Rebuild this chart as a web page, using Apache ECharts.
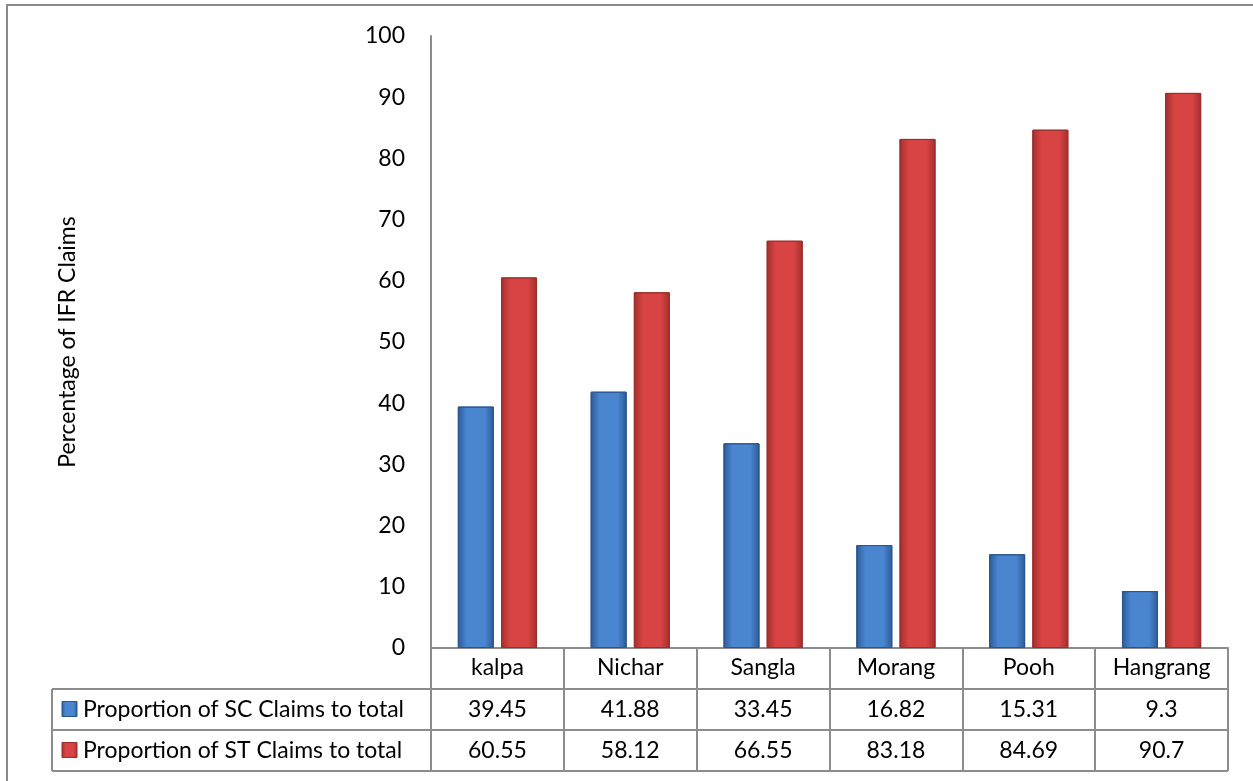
<!DOCTYPE html>
<html>
<head>
<meta charset="utf-8">
<script src="https://cdn.jsdelivr.net/npm/echarts@6/dist/echarts.min.js"></script>
<style>
  html, body { margin: 0; padding: 0; background: #fff; }
  #chart { width: 1253px; height: 781px; }
</style>
</head>
<body>
<div id="chart"></div>
<script>
// Blocks of Kinnaur district and the share of IFR claims by group
const blocks = ['kalpa', 'Nichar', 'Sangla', 'Morang', 'Pooh', 'Hangrang'];
const scShare = [39.45, 41.88, 33.45, 16.82, 15.31, 9.3];
const stShare = [60.55, 58.12, 66.55, 83.18, 84.69, 90.7];
const seriesNames = ['Proportion of SC Claims to total', 'Proportion of ST Claims to total'];
const yTicks = [0, 10, 20, 30, 40, 50, 60, 70, 80, 90, 100];

const FONT = 'Lato';
const FS = 23;
const GRID = { left: 431, right: 25, top: 36, bottom: 133 };
const W = 1253, H = 781;
const plotRight = W - GRID.right;
const axisY = H - GRID.bottom;
const rowH = 41;
const tableLeft = 52;
const gridLine = '#8c8c8c';

function barGradient(dark, light) {
  return new echarts.graphic.LinearGradient(0, 0, 1, 0, [
    { offset: 0, color: dark },
    { offset: 0.25, color: light },
    { offset: 0.75, color: light },
    { offset: 1, color: dark }
  ]);
}
const blueFill = barGradient('#2c5a96', '#4a86d0');
const redFill = barGradient('#a22f2c', '#d74443');

const chart = echarts.init(document.getElementById('chart'), null, { renderer: 'canvas' });

const option = {
  animation: false,
  backgroundColor: '#fff',
  textStyle: { fontFamily: FONT },
  grid: { left: GRID.left, right: GRID.right, top: GRID.top, bottom: GRID.bottom, containLabel: false },
  xAxis: {
    type: 'category',
    data: blocks,
    axisLine: { show: true, lineStyle: { color: gridLine, width: 2 } },
    axisTick: { show: true, interval: 0, length: rowH * 3, lineStyle: { color: gridLine, width: 2 } },
    axisLabel: { interval: 0, margin: 20, verticalAlign: 'middle', color: '#000', fontSize: FS, fontFamily: FONT }
  },
  yAxis: {
    type: 'value',
    min: 0, max: 100, interval: 10,
    name: 'Percentage of IFR Claims',
    nameLocation: 'middle',
    nameGap: 352,
    nameRotate: 90,
    nameTextStyle: { color: '#000', fontSize: FS, fontFamily: FONT },
    axisLine: { show: true, lineStyle: { color: gridLine, width: 2 } },
    axisTick: { show: false },
    splitLine: { show: false },
    axisLabel: {
      margin: 26, color: '#000', fontSize: FS, fontFamily: FONT,
      formatter: v => (yTicks.includes(v) ? String(v) : '')
    }
  },
  series: [
    {
      name: seriesNames[0], type: 'bar', data: scShare,
      barWidth: 36, barGap: '20%',
      itemStyle: { color: blueFill, borderColor: '#2a5590', borderWidth: 1 }
    },
    {
      name: seriesNames[1], type: 'bar', data: stShare,
      barWidth: 36, barGap: '20%',
      itemStyle: { color: redFill, borderColor: '#9b2c2a', borderWidth: 1 }
    }
  ]
};
chart.setOption(option);

// Data table under the axis: borders, legend keys and the values of each series
const elements = [];
const lineStyle = { stroke: gridLine, lineWidth: 2 };
const font = FS + 'px "' + FONT + '"';

// outer frame
elements.push({ type: 'rect', shape: { x: 7, y: 5, width: W + 10, height: H + 10 }, style: { fill: null, stroke: '#8a8a8a', lineWidth: 2 }, silent: true });

// horizontal table rules
[1, 2, 3].forEach(r => {
  const y = axisY + rowH * r;
  elements.push({ type: 'line', shape: { x1: tableLeft, y1: y, x2: plotRight, y2: y }, style: lineStyle, silent: true });
});
// left edge of the legend column
elements.push({ type: 'line', shape: { x1: tableLeft, y1: axisY + rowH, x2: tableLeft, y2: axisY + rowH * 3 }, style: lineStyle, silent: true });

const rows = [scShare, stShare];
const keyFills = [
  barGradient('#2c5a96', '#4a86d0'),
  barGradient('#a22f2c', '#d74443')
];
rows.forEach((vals, r) => {
  const cy = axisY + rowH * (r + 1) + rowH / 2;
  elements.push({ type: 'rect', shape: { x: 62, y: cy - 8, width: 15, height: 15 }, style: { fill: keyFills[r], stroke: r ? '#9b2c2a' : '#2a5590', lineWidth: 1 }, silent: true });
  elements.push({ type: 'text', x: 83, y: cy, style: { text: seriesNames[r], font: font, fill: '#000', textAlign: 'left', textVerticalAlign: 'middle' }, silent: true });
  vals.forEach((v, i) => {
    const cx = chart.convertToPixel({ xAxisIndex: 0 }, blocks[i]);
    elements.push({ type: 'text', x: cx, y: cy, style: { text: String(v), font: font, fill: '#000', textAlign: 'center', textVerticalAlign: 'middle' }, silent: true });
  });
});

chart.setOption({ graphic: { elements } });
</script>
</body>
</html>
